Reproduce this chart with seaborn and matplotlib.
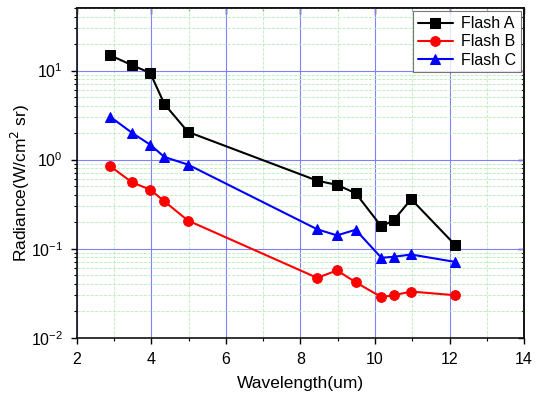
import matplotlib
matplotlib.use("Agg")
import matplotlib.pyplot as plt
from matplotlib.ticker import MultipleLocator, LogLocator, NullFormatter
import seaborn as sns
import pandas as pd

wl_a = [2.9, 3.48, 3.97, 4.35, 4.98, 8.45, 8.98, 9.48, 10.17, 10.5, 10.97, 12.15]
flash_a = [14.8, 11.5, 9.4, 4.2, 2.05, 0.58, 0.52, 0.42, 0.178, 0.208, 0.36, 0.11]
flash_b = [0.84, 0.556, 0.46, 0.34, 0.207, 0.047, 0.057, 0.042, 0.0286, 0.030, 0.033, 0.030]
flash_c = [3.02, 2.0, 1.47, 1.07, 0.88, 0.165, 0.141, 0.163, 0.079, 0.081, 0.086, 0.071]

series = {"Flash A": flash_a, "Flash B": flash_b, "Flash C": flash_c}
colors = {"Flash A": "black", "Flash B": "red", "Flash C": "blue"}
markers = {"Flash A": "s", "Flash B": "o", "Flash C": "^"}

sns.set_style("ticks")
plt.rcParams["font.family"] = ["Liberation Sans", "DejaVu Sans"]
plt.rcParams["text.color"] = "black"
plt.rcParams["axes.labelcolor"] = "black"
plt.rcParams["xtick.color"] = "black"
plt.rcParams["ytick.color"] = "black"

fig = plt.figure(figsize=(5.37, 3.95), dpi=100)
ax = fig.add_axes([0.143, 0.145, 0.833, 0.834])

for name, vals in series.items():
    df = pd.DataFrame({"x": wl_a, "y": vals})
    sns.lineplot(data=df, x="x", y="y", ax=ax, color=colors[name], marker=markers[name],
                 markersize=7, markeredgecolor=colors[name], linewidth=1.5, label=name)

ax.set_yscale("log")
ax.set_xlim(2, 14)
ax.set_ylim(0.01, 50)
ax.xaxis.set_major_locator(MultipleLocator(2))
ax.xaxis.set_minor_locator(MultipleLocator(1))
ax.yaxis.set_major_locator(LogLocator(base=10, numticks=10))
ax.yaxis.set_minor_locator(LogLocator(base=10, subs=range(2, 10), numticks=20))

ax.grid(which="major", color="#8080ff", linewidth=0.8)
ax.grid(which="minor", color="#b8eeb8", linestyle="--", linewidth=0.6)
ax.set_axisbelow(True)

# bottom/left ticks outward
ax.tick_params(which="both", direction="out", labelsize=11.5)
ax.tick_params(axis="x", which="major", length=4, width=1, pad=6)
ax.tick_params(axis="y", which="major", length=4, width=1, pad=6)
ax.tick_params(which="minor", length=2.5, width=0.8)

# top/right mirrored ticks pointing inward
top = ax.secondary_xaxis("top")
top.xaxis.set_major_locator(MultipleLocator(2))
top.xaxis.set_minor_locator(MultipleLocator(1))
top.xaxis.set_major_formatter(NullFormatter())
top.tick_params(which="both", direction="in")
top.tick_params(which="major", length=4, width=1)
top.tick_params(which="minor", length=2.5, width=0.8)
right = ax.secondary_yaxis("right")
right.set_yscale("log")
right.yaxis.set_major_locator(LogLocator(base=10, numticks=10))
right.yaxis.set_minor_locator(LogLocator(base=10, subs=range(2, 10), numticks=20))
right.yaxis.set_major_formatter(NullFormatter())
right.yaxis.set_minor_formatter(NullFormatter())
right.tick_params(which="both", direction="in")
right.tick_params(which="major", length=4, width=1)
right.tick_params(which="minor", length=2.5, width=0.8)

for a in (ax, top, right):
    for s in a.spines.values():
        s.set_linewidth(1.2)
        s.set_color("#111111")

ax.set_xlabel("Wavelength(um)", fontsize=12.5, labelpad=7)
ax.set_ylabel("Radiance(W/cm$^2$ sr)", fontsize=12.5)
ax.yaxis.set_label_coords(-0.1, 0.47)

leg = ax.legend(loc="upper right", fontsize=11.5, frameon=True, fancybox=False,
                edgecolor="#555555", borderaxespad=0.2, handlelength=2.2,
                labelspacing=0.2, borderpad=0.3, handletextpad=0.5)
leg.get_frame().set_linewidth(0.8)

fig.savefig("out.png", dpi=100)
